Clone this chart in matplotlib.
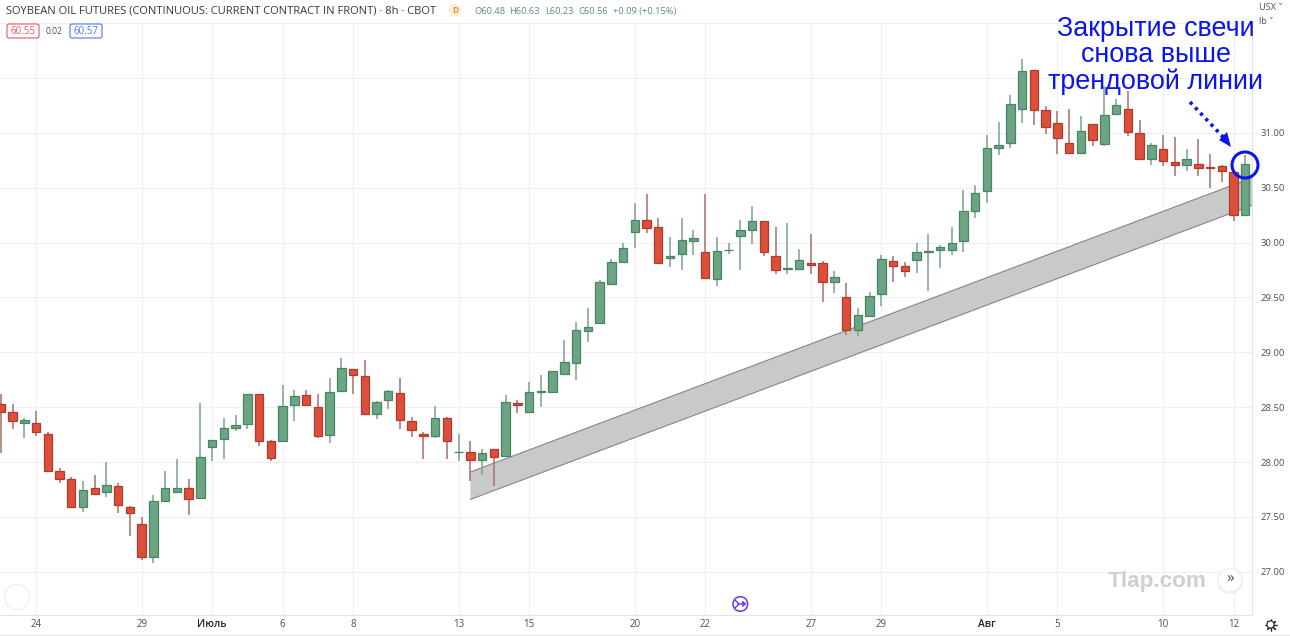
import matplotlib
matplotlib.use("Agg")
import matplotlib.pyplot as plt
from matplotlib.patches import Circle, FancyBboxPatch, Polygon
from matplotlib.transforms import ScaledTranslation

# 8h candles, left to right
opens = [28.53, 28.46, 28.36, 28.36, 28.26, 27.92, 27.85, 27.59, 27.76, 27.73,
         27.78, 27.59, 27.44, 27.14, 27.65, 27.73, 27.76, 27.67, 28.14, 28.21,
         28.31, 28.35, 28.62, 28.19, 28.19, 28.52, 28.61, 28.50, 28.25, 28.65,
         28.85, 28.78, 28.44, 28.57, 28.63, 28.37, 28.26, 28.24, 28.40, 28.09,
         28.09, 28.02, 28.12, 28.06, 28.54, 28.46, 28.64, 28.64, 28.80, 28.90,
         29.19, 29.27, 29.62, 29.82, 30.10, 30.21, 30.14, 29.86, 29.90, 30.01,
         29.91, 29.67, 29.93, 30.06, 30.11, 30.20, 29.88, 29.76, 29.76, 29.81,
         29.81, 29.64, 29.50, 29.20, 29.33, 29.53, 29.83, 29.79, 29.84, 29.91,
         29.93, 29.93, 30.01, 30.29, 30.47, 30.86, 30.91, 31.22, 31.57, 31.21,
         31.09, 30.91, 30.82, 31.08, 30.90, 31.17, 31.22, 31.00, 30.76, 30.85,
         30.73, 30.71, 30.72, 30.69, 30.70, 30.64, 30.25]
highs = [28.62, 28.53, 28.40, 28.47, 28.27, 27.95, 27.86, 27.83, 27.88, 28.00,
         27.81, 27.60, 27.50, 27.70, 27.92, 28.03, 27.85, 28.54, 28.20, 28.40,
         28.43, 28.62, 28.62, 28.20, 28.70, 28.66, 28.66, 28.62, 28.77, 28.95,
         28.85, 28.93, 28.56, 28.66, 28.77, 28.41, 28.27, 28.51, 28.41, 28.26,
         28.19, 28.12, 28.12, 28.61, 28.57, 28.73, 28.79, 28.83, 29.11, 29.28,
         29.40, 29.66, 29.85, 30.00, 30.36, 30.44, 30.22, 30.05, 30.22, 30.11,
         30.44, 30.05, 30.00, 30.21, 30.33, 30.20, 30.14, 30.18, 29.94, 30.08,
         29.83, 29.74, 29.63, 29.40, 29.55, 29.89, 29.88, 29.82, 30.00, 30.08,
         29.98, 30.14, 30.48, 30.52, 30.98, 31.10, 31.34, 31.67, 31.57, 31.24,
         31.20, 31.22, 31.15, 31.08, 31.43, 31.31, 31.38, 31.12, 30.91, 30.98,
         30.96, 30.85, 30.94, 30.81, 30.71, 30.65, 30.80]
lows = [28.08, 28.30, 28.22, 28.24, 27.91, 27.81, 27.58, 27.55, 27.71, 27.68,
        27.54, 27.33, 27.11, 27.08, 27.65, 27.73, 27.52, 27.67, 28.01, 28.03,
        28.28, 28.30, 28.15, 28.01, 28.19, 28.37, 28.52, 28.22, 28.17, 28.64,
        28.62, 28.44, 28.39, 28.48, 28.30, 28.23, 28.03, 28.22, 28.03, 28.01,
        27.83, 27.88, 27.78, 28.06, 28.45, 28.46, 28.50, 28.64, 28.80, 28.75,
        29.09, 29.26, 29.62, 29.81, 29.95, 30.09, 29.81, 29.78, 29.75, 29.89,
        29.67, 29.60, 29.90, 29.75, 29.99, 29.88, 29.71, 29.71, 29.75, 29.71,
        29.46, 29.54, 29.16, 29.15, 29.33, 29.42, 29.64, 29.69, 29.72, 29.56,
        29.77, 29.89, 29.91, 30.22, 30.36, 30.80, 30.86, 31.09, 31.07, 30.99,
        30.81, 30.81, 30.82, 30.88, 30.88, 31.17, 30.97, 30.75, 30.71, 30.70,
        30.61, 30.65, 30.61, 30.50, 30.55, 30.20, 30.25]
closes = [28.46, 28.37, 28.38, 28.27, 27.92, 27.85, 27.59, 27.75, 27.71, 27.79,
          27.61, 27.54, 27.14, 27.65, 27.76, 27.76, 27.66, 28.05, 28.20, 28.31,
          28.34, 28.62, 28.19, 28.04, 28.51, 28.60, 28.52, 28.24, 28.64, 28.86,
          28.79, 28.44, 28.55, 28.65, 28.38, 28.29, 28.24, 28.40, 28.19, 28.09,
          28.02, 28.08, 28.05, 28.55, 28.52, 28.64, 28.65, 28.83, 28.91, 29.20,
          29.23, 29.64, 29.82, 29.95, 30.21, 30.13, 29.81, 29.88, 30.02, 30.04,
          29.68, 29.92, 29.93, 30.11, 30.20, 29.91, 29.75, 29.77, 29.84, 29.80,
          29.64, 29.69, 29.20, 29.34, 29.51, 29.85, 29.79, 29.74, 29.91, 29.92,
          29.96, 30.00, 30.29, 30.45, 30.86, 30.89, 31.26, 31.56, 31.21, 31.05,
          30.95, 30.82, 31.02, 30.93, 31.16, 31.25, 31.01, 30.76, 30.89, 30.74,
          30.71, 30.76, 30.68, 30.68, 30.65, 30.25, 30.72]

# candle index of each date label
tick_pos = [3, 12, 18, 24, 30, 39, 45, 54, 60, 69, 75, 84, 90, 99, 105]
tick_labels = ["24", "29", "Июль", "6", "8", "13", "15", "20", "22", "27", "29", "Авг", "5", "10", "12"]
bold_labels = ["Июль", "Авг"]
price_ticks = [27.0, 27.5, 28.0, 28.5, 29.0, 29.5, 30.0, 30.5, 31.0, 31.5, 32.0]

# trend channel corners
band_x = [40, 106.6]
band_top = [27.91, 30.59]
band_bottom = [27.66, 30.34]

W, H = 1290, 636
UP, UP_EDGE, UP_WICK = "#6ba583", "#4a8467", "#7aa28e"
DOWN, DOWN_EDGE, DOWN_WICK = "#dd4f3b", "#b13a2e", "#ab6e66"
TEXT = "#4a4f58"


def fx(px):
    return px / W


def fy(py):
    return 1 - py / H


plt.rcParams["font.family"] = ["Open Sans", "DejaVu Sans"]
fig = plt.figure(figsize=(W / 100, H / 100), dpi=100, facecolor="white")
ax = fig.add_axes([0, fy(614.7), fx(1252.3), fy(23) - fy(614.7)])
ax.set_xlim(-0.07, 106.6)
ax.set_ylim(26.61, 32.0)
ax.set_axisbelow(True)
ax.grid(True, color="#eeeff2", linewidth=0.8)

ax.fill_between(band_x, band_bottom, band_top, facecolor="#c9c9c9", edgecolor="none", zorder=2)
ax.plot(band_x, band_top, color="#858585", linewidth=0.8, zorder=2)
ax.plot(band_x, band_bottom, color="#858585", linewidth=0.8, zorder=2)

# wicks first, bodies on top
for i in range(len(opens)):
    up = closes[i] >= opens[i]
    ax.vlines(i, lows[i], highs[i], color=UP_WICK if up else DOWN_WICK, linewidth=1.1, zorder=3)
    ax.bar(i, abs(closes[i] - opens[i]), bottom=min(opens[i], closes[i]), width=0.72,
           facecolor=UP if up else DOWN, edgecolor=UP_EDGE if up else DOWN_EDGE,
           linewidth=0.9, zorder=4)

ax.set_xticks(tick_pos)
ax.set_xticklabels(tick_labels, fontsize=7, color=TEXT)
for lab in ax.get_xticklabels():
    if lab.get_text() in bold_labels:
        lab.set_fontweight("semibold")
        lab.set_color("#222222")
        lab.set_fontsize(7.4)
        # month names sit a little left of their gridline
        lab.set_transform(lab.get_transform() + ScaledTranslation(-0.03, 0, fig.dpi_scale_trans))
ax.set_yticks(price_ticks)
ax.set_yticklabels([f"{p:.2f}" if p < 31.4 else "" for p in price_ticks], fontsize=6.8, color=TEXT)
ax.yaxis.tick_right()
ax.tick_params(axis="both", length=0)
ax.tick_params(axis="x", pad=3)
ax.tick_params(axis="y", pad=6)
for side in ["left", "top"]:
    ax.spines[side].set_visible(False)
for side in ["right", "bottom"]:
    ax.spines[side].set_color("#e0e3e8")

# header strip
fig.text(fx(6), fy(11), "SOYBEAN OIL FUTURES (CONTINUOUS: CURRENT CONTRACT IN FRONT) · 8h · CBOT",
         fontsize=8.0, color="#33373f", va="center")
fig.text(fx(455), fy(10.5), "D", fontsize=6, color="#e8912d", ha="center", va="center", fontweight="bold",
         bbox=dict(boxstyle="circle,pad=0.25", facecolor="#fdf0d8", edgecolor="none"))
x_ohlc = [474, 509, 545, 578, 613]
for xp, s in zip(x_ohlc, ["O60.48", "H60.63", "L60.23", "C60.56", "+0.09 (+0.15%)"]):
    fig.text(fx(xp), fy(11.5), s, fontsize=6.7, color="#5b8f78", va="center")

# bid / ask badges
for x0, x1, label, col in [(6, 40, "60.55", "#ef5360"), (69, 103, "60.57", "#4d78ef")]:
    fig.add_artist(FancyBboxPatch((x0 + 1, H - 38), x1 - x0 - 2, 14, boxstyle="round,pad=0,rounding_size=2",
                                  transform=None, facecolor="white", edgecolor=col, linewidth=0.8))
    fig.text(fx((x0 + x1) / 2), fy(31), label, fontsize=7, color=col, ha="center", va="center")
fig.text(fx(54.5), fy(31), "0.02", fontsize=6.2, color=TEXT, ha="center", va="center")

# currency and unit selectors
fig.text(fx(1259), fy(8), "USX ˅", fontsize=6.6, color=TEXT, va="center")
fig.text(fx(1259), fy(22), "lb ˅", fontsize=6.6, color=TEXT, va="center")

# watermark and chart buttons
fig.text(fx(1157), fy(581.5), "Tlap.com", fontsize=16.2, color="#cfcfcf", fontweight="bold",
         family="Liberation Sans", ha="center", va="center")
for r, a in [(13.5, 0.05), (12.5, 0.08)]:
    fig.add_artist(Circle((1230, H - 581), r, transform=None, facecolor="#888888", edgecolor="none", alpha=a))
fig.add_artist(Circle((1230, H - 580), 11, transform=None, facecolor="white", edgecolor="none"))
fig.text(fx(1230), fy(579.5), "»", fontsize=11, color="#4a4f58", ha="center", va="center")
fig.add_artist(Circle((17, H - 597), 12.5, transform=None, facecolor="none", edgecolor="#f0f0f0", linewidth=1))

# purple jump-to-date button
PURPLE = "#6a35f0"
fig.add_artist(Circle((740.3, H - 604), 7.3, transform=None, facecolor="white", edgecolor=PURPLE, linewidth=1.1))
fig.add_artist(plt.Line2D([fx(735.5), fx(739), fx(735.5)], [fy(600.5), fy(604), fy(607.5)],
                          color=PURPLE, linewidth=1))
fig.add_artist(plt.Line2D([fx(738), fx(745), fx(742.5), fx(745), fx(742.5)],
                          [fy(604), fy(604), fy(601.8), fy(604), fy(606.2)], color=PURPLE, linewidth=1))

# settings gear: spokes with a white hub over them
fig.add_artist(plt.Line2D([fx(1270.5)], [fy(624.5)], marker=(8, 2, 0), markersize=8.5, color="#333333",
                          markeredgewidth=0.9, linestyle="none", zorder=3))
fig.add_artist(Circle((1270.5, H - 624.5), 3.6, transform=None, facecolor="white", edgecolor="#333333",
                      linewidth=0.9, zorder=4))
fig.add_artist(plt.Line2D([0, 1], [fy(635.2), fy(635.2)], color="#e4e6ea", linewidth=1))

# hand-drawn callout over the last candles
BLUE = "#0a14ee"
for text, yp in zip(["Закрытие свечи", "снова выше", "трендовой линии"], [29.5, 55.5, 81.5]):
    fig.text(fx(1156), fy(yp), text, fontsize=19.4, color=BLUE, family="Liberation Sans",
             ha="center", va="center")
fig.add_artist(plt.Line2D([fx(1190), fx(1224)], [fy(102), fy(138)], color=BLUE, linewidth=2.6,
                          linestyle=(0, (0.9, 1.2))))
fig.add_artist(Polygon([(1231, H - 147), (1219, H - 140), (1227, H - 132)], closed=True, transform=None,
                       facecolor=BLUE, edgecolor="none"))
fig.add_artist(Circle((1245, H - 165), 13, transform=None, facecolor="none", edgecolor=BLUE, linewidth=2.2))

fig.savefig("out.png", dpi=100)
